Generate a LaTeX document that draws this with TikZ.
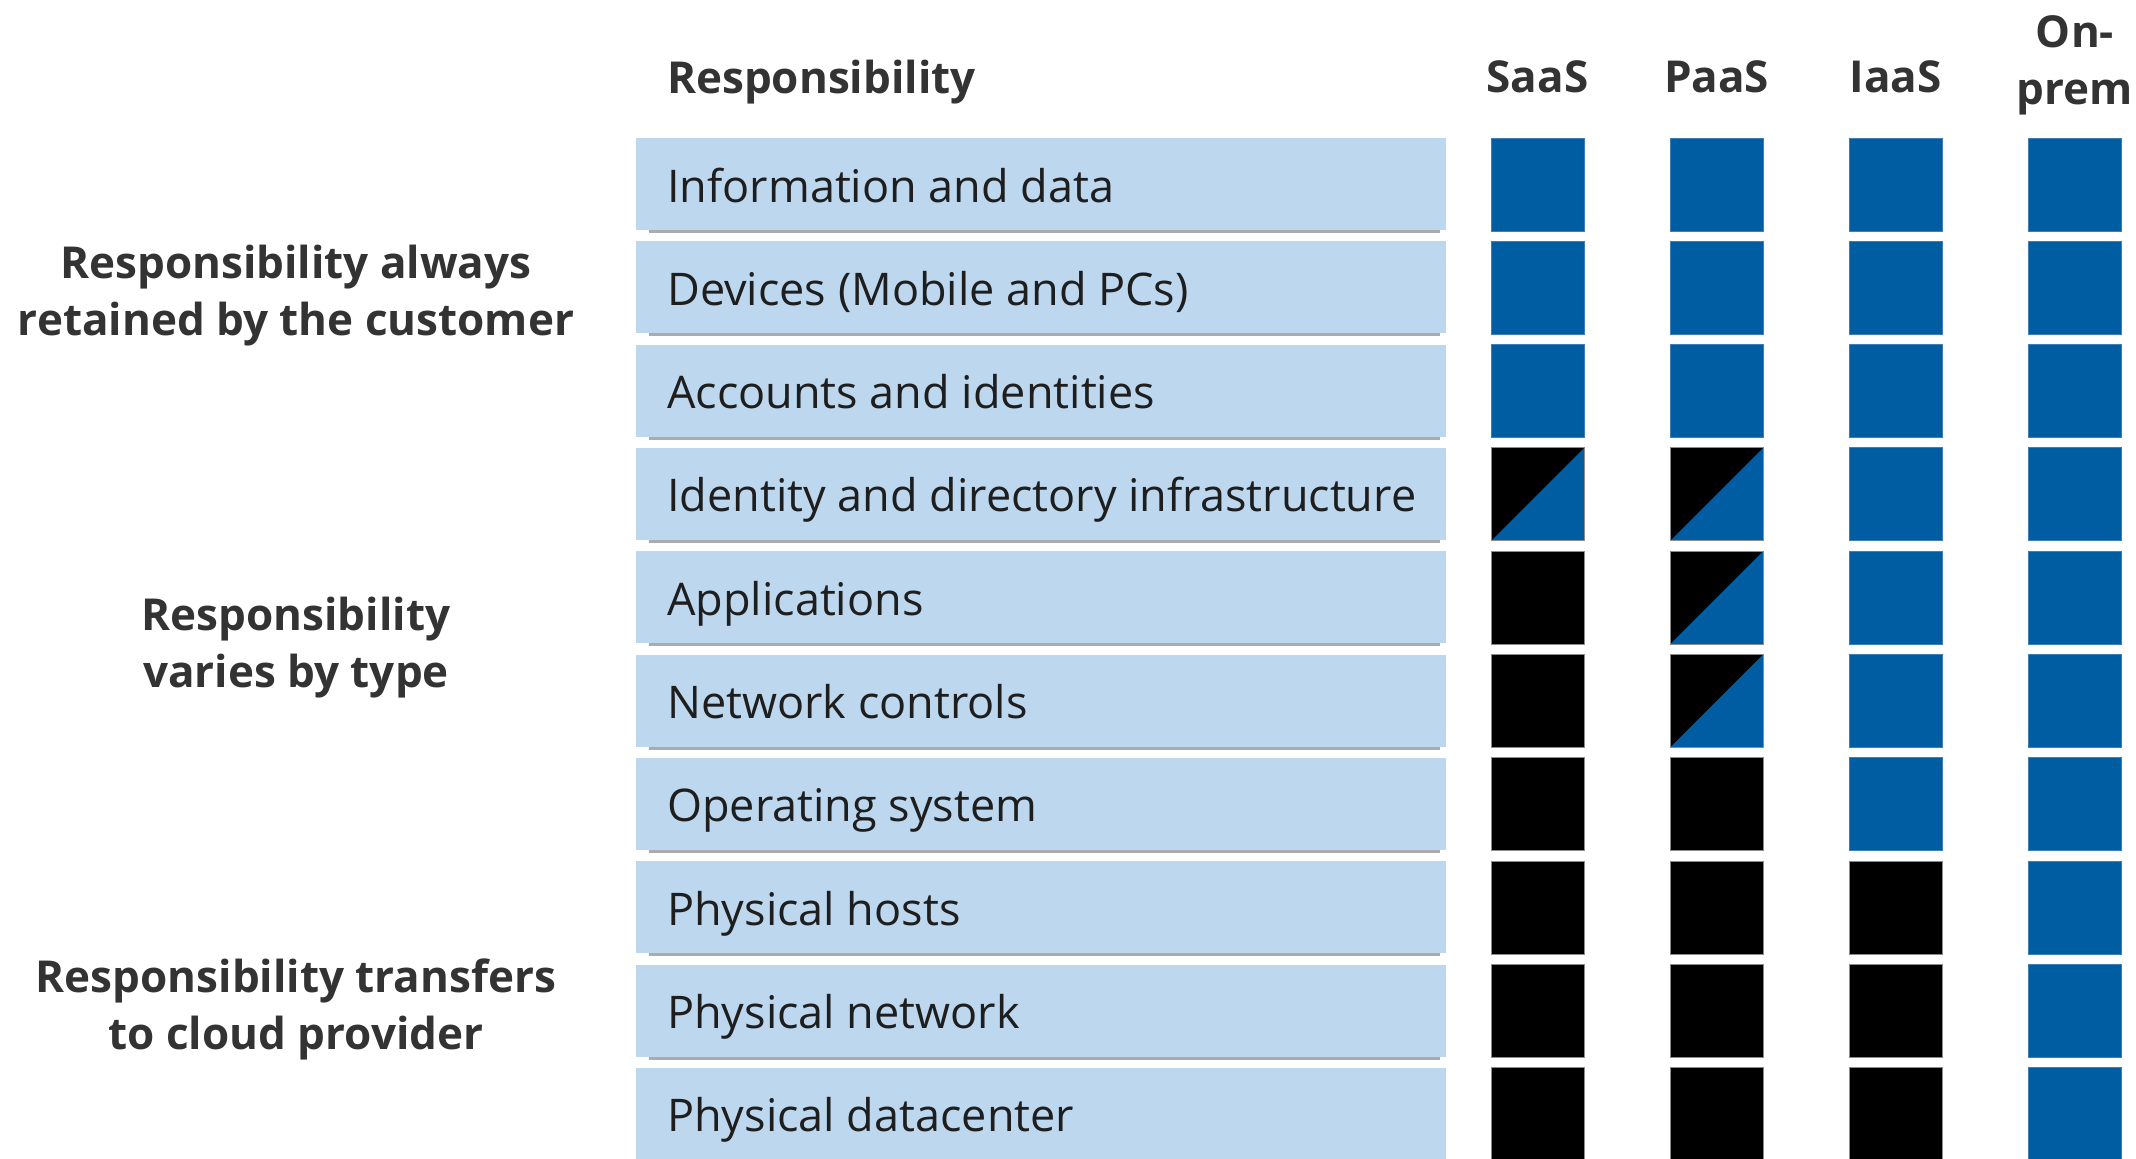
\documentclass[tikz,border=0pt]{standalone}
\usepackage{fontspec}
\setmainfont{Open Sans}
\definecolor{cblue}{HTML}{005DA2}
\definecolor{cblueedge}{HTML}{3F7FB8}
\definecolor{cbar}{HTML}{BDD7EE}
\definecolor{ctext}{HTML}{1E1E1E}
\definecolor{chead}{HTML}{333333}
\definecolor{cshadow}{HTML}{ABABAB}
\begin{document}
\begin{tikzpicture}[x=1pt,y=-1pt,
  bar/.style={fill=cbar, draw=none, minimum width=810pt, minimum height=92pt, anchor=north west, inner sep=0pt, outer sep=0pt},
  rowtext/.style={anchor=base west, inner sep=0pt, text=ctext, font=\fontsize{45}{52}\selectfont},
  headtext/.style={anchor=base, inner sep=0pt, text=chead, font=\bfseries\fontsize{44}{52}\selectfont},
  sidetext/.style={align=center, anchor=center, inner sep=0pt, text=chead, font=\bfseries\fontsize{44}{57}\selectfont},
  cellbase/.style={minimum size=93pt, anchor=north west, inner sep=0pt, outer sep=0pt, line width=1pt},
  cellB/.style={cellbase, fill=cblue, draw=cblueedge},
  cellK/.style={cellbase, fill=black, draw=black!45},
  cellH/.style={cellbase, fill=black, draw=black!45,
    path picture={\fill[cblue] (path picture bounding box.south west) -- (path picture bounding box.south east) -- (path picture bounding box.north east) -- cycle;}},
]
\fill[white] (0,0) rectangle (2136,1159);
\useasboundingbox (0,0) rectangle (2136,1159);

% headers
\node[headtext, anchor=base west] (hresp) at (667,93) {Responsibility};
\node[headtext] (hsaas) at (1537.5,92) {SaaS};
\node[headtext] (hpaas) at (1716.5,92) {PaaS};
\node[headtext] (hiaas) at (1895.5,92) {IaaS};
\node[headtext, align=center, anchor=center, font=\bfseries\fontsize{44}{57}\selectfont] (honprem) at (2075,65) {On-\\prem};

% side labels
\node[sidetext] (lab1) at (296,296) {Responsibility always\\retained by the customer};
\node[sidetext] (lab2) at (296,648) {Responsibility\\varies by type};
\node[sidetext] (lab3) at (296,1009.5) {Responsibility transfers\\to cloud provider};

% rows
\foreach \txt/\ca/\cb/\cc/\cd [count=\i from 0] in {
  Information and data/B/B/B/B,
  Devices (Mobile and PCs)/B/B/B/B,
  Accounts and identities/B/B/B/B,
  Identity and directory infrastructure/H/H/B/B,
  Applications/K/H/B/B,
  Network controls/K/H/B/B,
  Operating system/K/K/B/B,
  Physical hosts/K/K/K/B,
  Physical network/K/K/K/B,
  Physical datacenter/K/K/K/B}
{
  \pgfmathsetmacro\yy{138+103.33*\i}
  \fill[cshadow] (649,\yy+91) rectangle (1440,\yy+95);
  \node[bar] (bar\i) at (636,\yy) {};
  \node[rowtext] (txt\i) at (667,\yy+64) {\txt};
  \node[cell\ca] (saas\i) at (1491,\yy) {};
  \node[cell\cb] (paas\i) at (1670,\yy) {};
  \node[cell\cc] (iaas\i) at (1849,\yy) {};
  \node[cell\cd] (prem\i) at (2028,\yy) {};
}
\end{tikzpicture}
\end{document}
